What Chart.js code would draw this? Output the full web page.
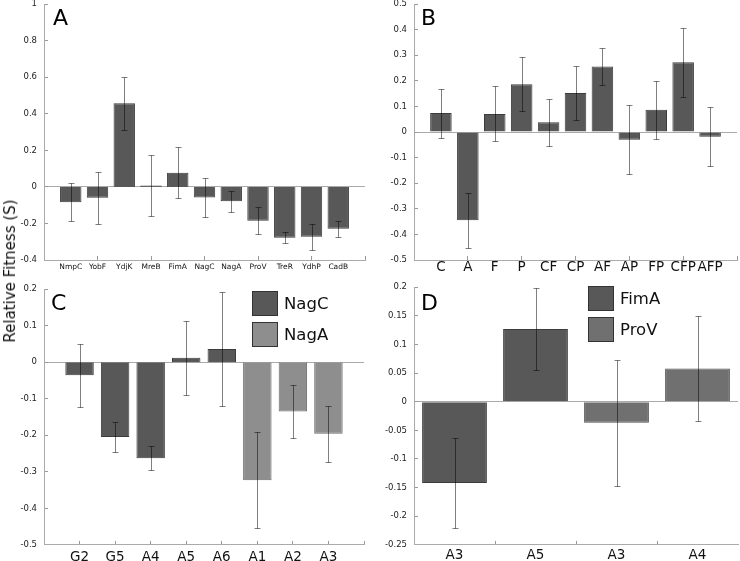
<!DOCTYPE html>
<html>
<head>
<meta charset="utf-8">
<script src="https://cdn.jsdelivr.net/npm/chart.js@4.4.0/dist/chart.umd.min.js"></script>
<style>
  body { margin: 0; background: #fff; font-family: "DejaVu Sans", sans-serif; }
  #wrap { position: relative; width: 740px; height: 561px; overflow: hidden; }
  .panel { position: absolute; }
  .letter { position: absolute; font-size: 22px; line-height: 1; color: #000; }
  .ytitle { position: absolute; left: 10px; top: 271px; transform: translate(-50%, -50%) rotate(-90deg);
            font-size: 15px; white-space: nowrap; color: #111; }
  .legend { position: absolute; font-size: 16.5px; color: #111; }
  .legend .row { display: flex; align-items: center; height: 26px; margin-bottom: 5px; }
  .legend .box { width: 24px; height: 23px; border: 1px solid #333; margin-right: 6px; }
</style>
</head>
<body>
<div id="wrap">
  <canvas id="chartA" class="panel" style="left:0;top:-12px;"></canvas>
  <canvas id="chartB" class="panel" style="left:370px;top:-12px;"></canvas>
  <canvas id="chartC" class="panel" style="left:0;top:273px;"></canvas>
  <canvas id="chartD" class="panel" style="left:370px;top:271px;"></canvas>
  <div class="letter" style="left:53px;top:7px;">A</div>
  <div class="letter" style="left:421px;top:7px;">B</div>
  <div class="letter" style="left:51px;top:292px;">C</div>
  <div class="letter" style="left:421px;top:292px;">D</div>
  <div class="ytitle">Relative Fitness (S)</div>
  <div id="legendC" class="legend" style="left:252px;top:290px;"></div>
  <div id="legendD" class="legend" style="left:588px;top:285px;"></div>
</div>
<script>
// panel A: single gene knockouts
const geneLabels = ['NmpC', 'YobF', 'YdjK', 'MreB', 'FimA', 'NagC', 'NagA', 'ProV', 'TreR', 'YdhP', 'CadB'];
const geneFitness = [-0.084, -0.060, 0.458, 0.007, 0.078, -0.058, -0.078, -0.185, -0.278, -0.273, -0.229];
const geneError = [0.105, 0.142, 0.145, 0.168, 0.140, 0.105, 0.058, 0.074, 0.029, 0.071, 0.045];

// panel B: combinations
const comboLabels = ['C', 'A', 'F', 'P', 'CF', 'CP', 'AF', 'AP', 'FP', 'CFP', 'AFP'];
const comboFitness = [0.074, -0.345, 0.071, 0.187, 0.038, 0.153, 0.256, -0.030, 0.087, 0.273, -0.018];
const comboError = [0.096, 0.107, 0.107, 0.105, 0.092, 0.107, 0.072, 0.134, 0.114, 0.135, 0.114];

// panel C: NagC / NagA alleles
const nagLabels = ['G2', 'G5', 'A4', 'A5', 'A6', 'A1', 'A2', 'A3'];
const nagCFitness = [-0.036, -0.205, -0.263, 0.012, 0.036];
const nagCError = [0.087, 0.042, 0.033, 0.102, 0.156];
const nagAFitness = [-0.323, -0.135, -0.196];
const nagAError = [0.132, 0.072, 0.076];

// panel D: FimA / ProV alleles
const fimProLabels = ['A3', 'A5', 'A3', 'A4'];
const fimAFitness = [-0.142, 0.127];
const fimAError = [0.079, 0.072];
const proVFitness = [-0.037, 0.058];
const proVError = [0.110, 0.092];

const dark = '#585858', darkEdge = '#3c3c3c';

// pad a short series with nulls so it sits in the right category slots
function place(values, before, total) {
  const out = new Array(total).fill(null);
  values.forEach((v, i) => { out[before + i] = v; });
  return out;
}

const errorBars = {
  id: 'errorBars',
  afterDatasetsDraw(chart) {
    const ctx = chart.ctx;
    const y = chart.scales.y;
    chart.data.datasets.forEach((ds, i) => {
      const meta = chart.getDatasetMeta(i);
      meta.data.forEach((bar, j) => {
        const v = ds.data[j], e = ds.errors[j];
        if (v == null || e == null) return;
        const x = Math.round(bar.x) + 0.5;
        const top = Math.round(y.getPixelForValue(v + e)) + 0.5;
        const bot = Math.round(y.getPixelForValue(v - e)) + 0.5;
        ctx.save();
        ctx.strokeStyle = 'rgba(0,0,0,0.5)';
        ctx.lineWidth = 1;
        ctx.beginPath();
        ctx.moveTo(x, top); ctx.lineTo(x, bot);
        ctx.moveTo(x - 3, top); ctx.lineTo(x + 3, top);
        ctx.moveTo(x - 3, bot); ctx.lineTo(x + 3, bot);
        ctx.stroke();
        ctx.restore();
      });
    });
  }
};

function makeOptions(o) {
  return {
    responsive: false,
    animation: false,
    events: [],
    layout: { padding: { top: 0, right: 2, left: 0, bottom: 0 } },
    plugins: { legend: { display: false }, tooltip: { enabled: false } },
    scales: {
      x: {
        offset: o.offset,
        grid: {
          offset: o.offset,
          drawOnChartArea: false,
          tickLength: -4,
          tickColor: ctx => (ctx.index % o.tickEvery === 0 ? '#999' : 'rgba(0,0,0,0)')
        },
        border: { color: '#aaa' },
        ticks: {
          autoSkip: false,
          maxRotation: 0,
          padding: o.xPad,
          color: '#111',
          font: { family: 'DejaVu Sans', size: o.xFont }
        },
        afterFit: s => { s.height = o.xHeight; }
      },
      y: {
        min: o.min,
        max: o.max,
        grid: {
          color: ctx => (ctx.tick && Math.abs(ctx.tick.value) < 1e-9 ? '#aaa' : 'rgba(0,0,0,0)'),
          tickLength: -4,
          tickColor: '#999'
        },
        border: { color: '#aaa' },
        ticks: {
          stepSize: o.step,
          padding: 11,
          color: '#222',
          font: { family: 'DejaVu Sans', size: 8.5 },
          callback: v => String(parseFloat(Number(v).toFixed(2)))
        },
        afterFit: s => { s.width = 44; }
      }
    }
  };
}

function barSet(label, data, errors, fill, edge) {
  return {
    label: label,
    data: data,
    errors: errors,
    backgroundColor: fill,
    borderColor: edge,
    borderWidth: 1,
    barPercentage: 0.8,
    categoryPercentage: 1,
    skipNull: true
  };
}

function makeLegend(id, chart) {
  const el = document.getElementById(id);
  chart.data.datasets.forEach(ds => {
    const row = document.createElement('div');
    row.className = 'row';
    const box = document.createElement('div');
    box.className = 'box';
    box.style.background = ds.backgroundColor;
    const txt = document.createElement('span');
    txt.textContent = ds.label;
    row.appendChild(box);
    row.appendChild(txt);
    el.appendChild(row);
  });
}

function setSize(id, w, h) {
  const c = document.getElementById(id);
  c.width = w; c.height = h;
  c.style.width = w + 'px'; c.style.height = h + 'px';
  return c;
}

// A and B: x range runs one slot past first and last bar, so pad labels
const aLabels = [''].concat(geneLabels, ['']);
new Chart(setSize('chartA', 372, 292), {
  type: 'bar',
  data: {
    labels: aLabels,
    datasets: [barSet('Gene', place(geneFitness, 1, aLabels.length), place(geneError, 1, aLabels.length), dark, darkEdge)]
  },
  options: makeOptions({ offset: false, tickEvery: 2, xPad: 7, xFont: 7.5, xHeight: 20, min: -0.4, max: 1, step: 0.2 }),
  plugins: [errorBars]
});

const bLabels = [''].concat(comboLabels, ['']);
new Chart(setSize('chartB', 370, 292), {
  type: 'bar',
  data: {
    labels: bLabels,
    datasets: [barSet('Combination', place(comboFitness, 1, bLabels.length), place(comboError, 1, bLabels.length), dark, darkEdge)]
  },
  options: makeOptions({ offset: false, tickEvery: 2, xPad: 3, xFont: 13.5, xHeight: 20, min: -0.5, max: 0.5, step: 0.1 }),
  plugins: [errorBars]
});

const cLabels = [''].concat(nagLabels, ['']);
const chartC = new Chart(setSize('chartC', 372, 288), {
  type: 'bar',
  data: {
    labels: cLabels,
    datasets: [
      barSet('NagC', place(nagCFitness, 1, cLabels.length), place(nagCError, 1, cLabels.length), dark, darkEdge),
      barSet('NagA', place(nagAFitness, 6, cLabels.length), place(nagAError, 6, cLabels.length), '#8e8e8e', '#6a6a6a')
    ]
  },
  options: makeOptions({ offset: false, tickEvery: 1, xPad: 8, xFont: 13.5, xHeight: 16, min: -0.5, max: 0.2, step: 0.1 }),
  plugins: [errorBars]
});
makeLegend('legendC', chartC);

const chartD = new Chart(setSize('chartD', 370, 290), {
  type: 'bar',
  data: {
    labels: fimProLabels,
    datasets: [
      barSet('FimA', place(fimAFitness, 0, 4), place(fimAError, 0, 4), dark, darkEdge),
      barSet('ProV', place(proVFitness, 2, 4), place(proVError, 2, 4), '#707070', '#505050')
    ]
  },
  options: makeOptions({ offset: true, tickEvery: 1, xPad: 6, xFont: 13.5, xHeight: 16, min: -0.25, max: 0.2, step: 0.05 }),
  plugins: [errorBars]
});
makeLegend('legendD', chartD);
</script>
</body>
</html>
